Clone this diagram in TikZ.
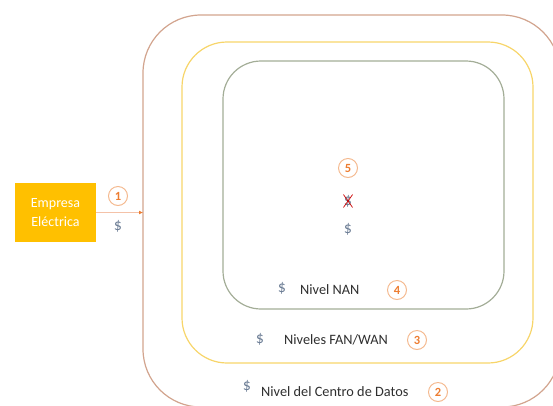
\documentclass[tikz,border=0pt]{standalone}
\usepackage{fontspec}
\setmainfont{Carlito}
\usetikzlibrary{arrows.meta}

\definecolor{nivelout}{HTML}{D2A48E}
\definecolor{nivelmid}{HTML}{F7D56A}
\definecolor{nivelin}{HTML}{A3AD97}
\definecolor{empresa}{HTML}{FFC000}
\definecolor{numline}{HTML}{F4B98F}
\definecolor{numtext}{HTML}{ED7D31}
\definecolor{dollarc}{HTML}{6B7C94}
\definecolor{textc}{HTML}{2E2E2E}
\definecolor{flecha}{HTML}{F4C2A8}

\begin{document}
\begin{tikzpicture}[x=1pt,y=-1pt]
    \tikzstyle{every node}+=[inner sep=0pt]
    \tikzstyle{numcirc}=[circle, draw=numline, line width=1pt, minimum size=19pt, text=numtext, font=\bfseries\fontsize{12.5}{13}\selectfont]
    \tikzstyle{dollar}=[text=dollarc, font=\fontsize{16}{18}\selectfont]
    \tikzstyle{lbl}=[text=textc, font=\fontsize{14.3}{16}\selectfont, anchor=west]
    \useasboundingbox (0,0) rectangle (553,405);
    \clip (0,0) rectangle (553,405);
    % levels
    \draw [nivelout, line width=1.2pt, rounded corners=58pt] (143,15) rectangle (560,407);
    \draw [nivelmid, line width=1.2pt, rounded corners=45pt] (182,42) rectangle (533,363);
    \draw [nivelin, line width=1.2pt, rounded corners=38pt] (223,61) rectangle (504,309);
    % utility
    \node (emp) at (55.5,212.5) [fill=empresa, minimum width=81pt, minimum height=59pt, text=white, align=center, font=\fontsize{14}{19}\selectfont] {Empresa\\Eléctrica};
    \coordinate (borde) at (143,212.5);
    \draw [flecha, line width=0.8pt, -{Latex[length=4pt,width=4pt,color=numtext]}] (emp) -- (borde);
    \node (c1) at (118,196) [numcirc] {1};
    \node (d1) at (118,226) [dollar] {\$};
    % center
    \node (c5) at (348,168) [numcirc] {5};
    \node (dx) at (348,201) [dollar, inner sep=0.3pt] {\$};
    \draw [red!80!black, line width=0.7pt] (dx.north west) -- (dx.south east);
    \draw [red!80!black, line width=0.7pt] (dx.north east) -- (dx.south west);
    \node (d5) at (348,229) [dollar] {\$};
    % NAN
    \node (d4) at (282,288) [dollar] {\$};
    \node (t4) at (300,290) [lbl] {Nivel NAN};
    \node (c4) at (397,290) [numcirc] {4};
    % FAN/WAN
    \node (d3) at (260,339) [dollar] {\$};
    \node (t3) at (284,340) [lbl] {Niveles FAN/WAN};
    \node (c3) at (417,340) [numcirc] {3};
    % centro de datos
    \node (d2) at (247,386) [dollar] {\$};
    \node (t2) at (261,392) [lbl] {Nivel del Centro de Datos};
    \node (c2) at (438,392) [numcirc] {2};
\end{tikzpicture}
\end{document}
